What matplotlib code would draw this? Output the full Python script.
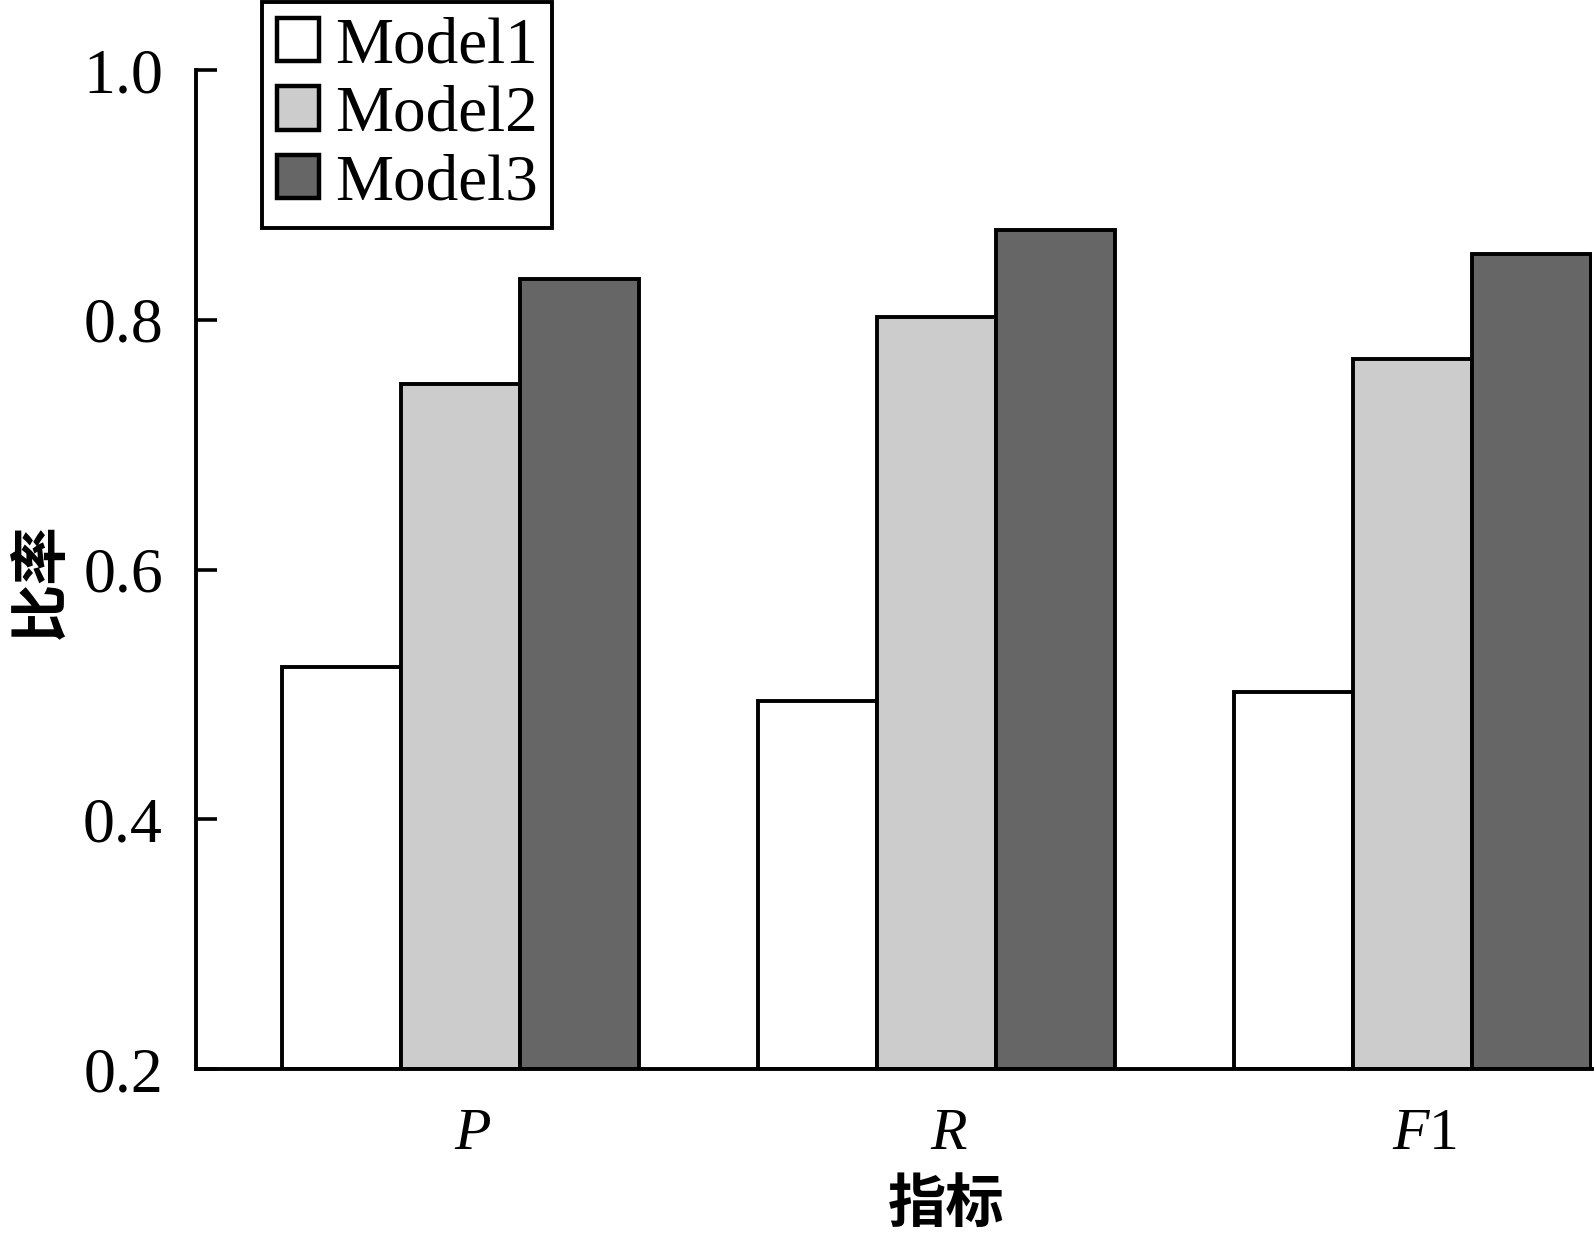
import numpy as np
import matplotlib
matplotlib.use("Agg")
import matplotlib.pyplot as plt
from matplotlib.transforms import ScaledTranslation

plt.rcParams['font.family'] = ['Liberation Serif', 'Noto Sans CJK SC', 'DejaVu Sans']
plt.rcParams['mathtext.fontset'] = 'custom'
plt.rcParams['mathtext.it'] = 'Liberation Serif:italic'
plt.rcParams['mathtext.rm'] = 'Liberation Serif'

# data
metrics = ['$P$', '$R$', '$F$1']
models = ['Model1', 'Model2', 'Model3']
model1 = [0.522, 0.495, 0.502]
model2 = [0.749, 0.802, 0.769]
model3 = [0.833, 0.872, 0.853]
colors = ['#ffffff', '#cccccc', '#666666']

fig = plt.figure(figsize=(15.94, 12.44), dpi=100)
ax = fig.add_axes([0.1231, 0.1405, 0.8756, 0.8031])

x = np.arange(len(metrics))
w = 0.25
for i, (vals, name) in enumerate(zip([model1, model2, model3], models)):
    ax.bar(x + (i - 1) * w, np.array(vals) - 0.2, w, bottom=0.2, color=colors[i],
           edgecolor='black', linewidth=2.8, label=name, zorder=2)

ax.set_ylim(0.2, 1.0)
ax.set_xlim(-0.555, 2.377)
ax.set_yticks([0.2, 0.4, 0.6, 0.8, 1.0])
ax.set_yticklabels(['0.2', '0.4', '0.6', '0.8', '1.0'])
ax.set_xticks(x)
ax.set_xticklabels(metrics)
ax.tick_params(axis='y', direction='in', length=15, width=2.6, labelsize=46, pad=24)
ax.tick_params(axis='x', length=0, labelsize=43, pad=28)
for lab in ax.get_xticklabels():
    lab.set_transform(lab.get_transform() + ScaledTranslation(0.12, 0, fig.dpi_scale_trans))
for s in ['top', 'right']:
    ax.spines[s].set_visible(False)
for s in ['left', 'bottom']:
    ax.spines[s].set_linewidth(2.8)

ax.set_ylabel('比率', family=['Noto Sans CJK SC'], fontsize=42, fontweight='bold',
              va='center', ha='center')
ax.yaxis.set_label_coords(-0.1105, 0.489)
ax.set_xlabel('指标', family=['Noto Sans CJK SC'], fontsize=42, fontweight='bold',
              va='center', ha='center')
ax.xaxis.set_label_coords(0.537, -0.136)

leg = fig.legend(loc='upper left', bbox_to_anchor=(0.1645, 0.998), fontsize=47,
                 frameon=True, fancybox=False, edgecolor='black', framealpha=1,
                 handlelength=0.65, handleheight=0.65, handletextpad=0.25,
                 labelspacing=0.14, borderpad=0.22, borderaxespad=0)
leg.get_frame().set_linewidth(2.8)
for h in leg.legend_handles:
    h.set_linewidth(3.2)

fig.savefig('out.png', dpi=100)
